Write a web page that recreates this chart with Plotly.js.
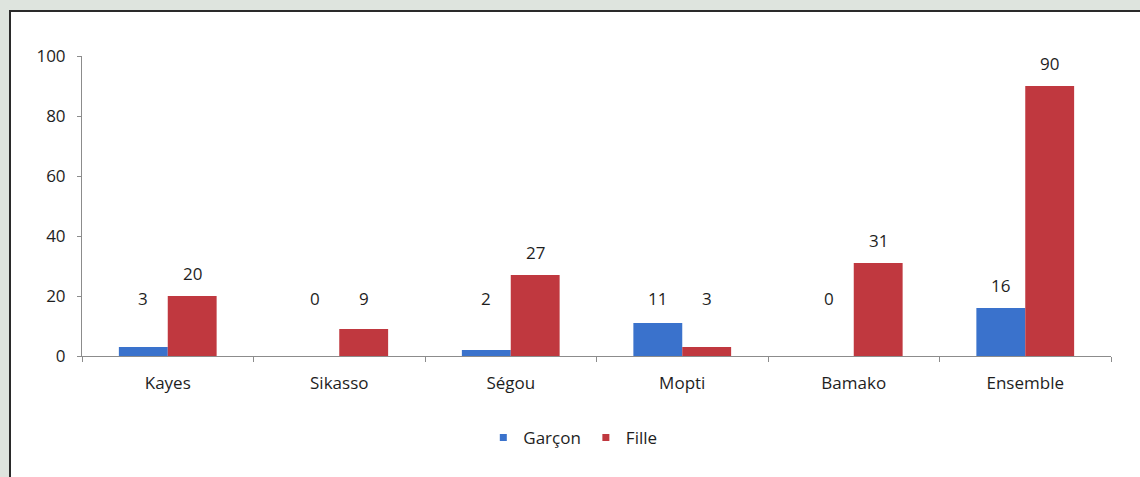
<!DOCTYPE html>
<html>
<head>
<meta charset="utf-8">
<script src="https://cdn.plot.ly/plotly-3.0.1.min.js"></script>
<style>
  html, body { margin: 0; padding: 0; background: #dee4de; width: 1140px; height: 477px; overflow: hidden; }
  #box { position: absolute; left: 9px; top: 10px; width: 1140px; height: 480px; background: #ffffff;
         border-top: 2px solid #2a2a2a; border-left: 2px solid #2a2a2a; }
  #chart { position: absolute; left: 0; top: 0; width: 1140px; height: 477px; }
</style>
</head>
<body>
<div id="box"></div>
<div id="chart"></div>
<script>
const categories = ["Kayes", "Sikasso", "Ségou", "Mopti", "Bamako", "Ensemble"];
const garcon = [3, 0, 2, 11, 0, 16];
const fille = [20, 9, 27, 3, 31, 90];
const seriesNames = ["Garçon", "Fille"];
const yTicks = [0, 20, 40, 60, 80, 100];

const blue = "#3a72cc";
const red = "#c0383f";
const font = "Open Sans, Liberation Sans, sans-serif";
const fs = 17;

const traces = [
  { type: "bar", name: seriesNames[0], x: categories, y: garcon, marker: { color: blue }, showlegend: false },
  { type: "bar", name: seriesNames[1], x: categories, y: fille, marker: { color: red }, showlegend: false },
  { type: "scatter", mode: "markers", name: seriesNames[0], x: [null], y: [null],
    marker: { symbol: "square", size: 7, color: blue }, showlegend: true },
  { type: "scatter", mode: "markers", name: seriesNames[1], x: [null], y: [null],
    marker: { symbol: "square", size: 7, color: red }, showlegend: true }
];

function labelY(v) { return Math.max(v + 23 / 3, 19.3); }
const annotations = [];
[[garcon, -24.5], [fille, 24.5]].forEach(([vals, shift]) => {
  vals.forEach((v, i) => {
    annotations.push({
      x: categories[i], y: labelY(v), xref: "x", yref: "y",
      text: String(v), showarrow: false, xshift: shift,
      yanchor: "middle", xanchor: "center",
      font: { family: font, size: fs, color: "#1e1e1e" }
    });
  });
});

const layout = {
  width: 1140, height: 477,
  margin: { l: 82, r: 29, t: 56, b: 121 },
  paper_bgcolor: "rgba(0,0,0,0)",
  plot_bgcolor: "rgba(0,0,0,0)",
  barmode: "group",
  bargap: 0.43,
  bargroupgap: 0,
  font: { family: font, size: fs, color: "#1e1e1e" },
  xaxis: {
    type: "category",
    showline: true, linecolor: "#8c8c8c", linewidth: 1,
    ticks: "outside", tickson: "boundaries", ticklen: 5, tickcolor: "#8c8c8c",
    showgrid: false, zeroline: false,
    ticklabelstandoff: 12,
    tickfont: { family: font, size: fs, color: "#1e1e1e" }
  },
  yaxis: {
    range: [0, 100], tickvals: yTicks,
    showline: true, linecolor: "#8c8c8c", linewidth: 1,
    ticks: "outside", ticklen: 4, tickcolor: "#8c8c8c",
    showgrid: false, zeroline: false,
    ticklabelstandoff: 8,
    tickfont: { family: font, size: fs, color: "#1e1e1e" }
  },
  showlegend: true,
  legend: {
    orientation: "h", x: 0.39, xanchor: "left", y: -0.273, yanchor: "middle",
    font: { family: font, size: fs, color: "#1e1e1e" },
    itemwidth: 30, bgcolor: "rgba(0,0,0,0)", tracegroupgap: 0
  },
  annotations: annotations
};

Plotly.newPlot("chart", traces, layout, { displayModeBar: false, staticPlot: true });
</script>
</body>
</html>
